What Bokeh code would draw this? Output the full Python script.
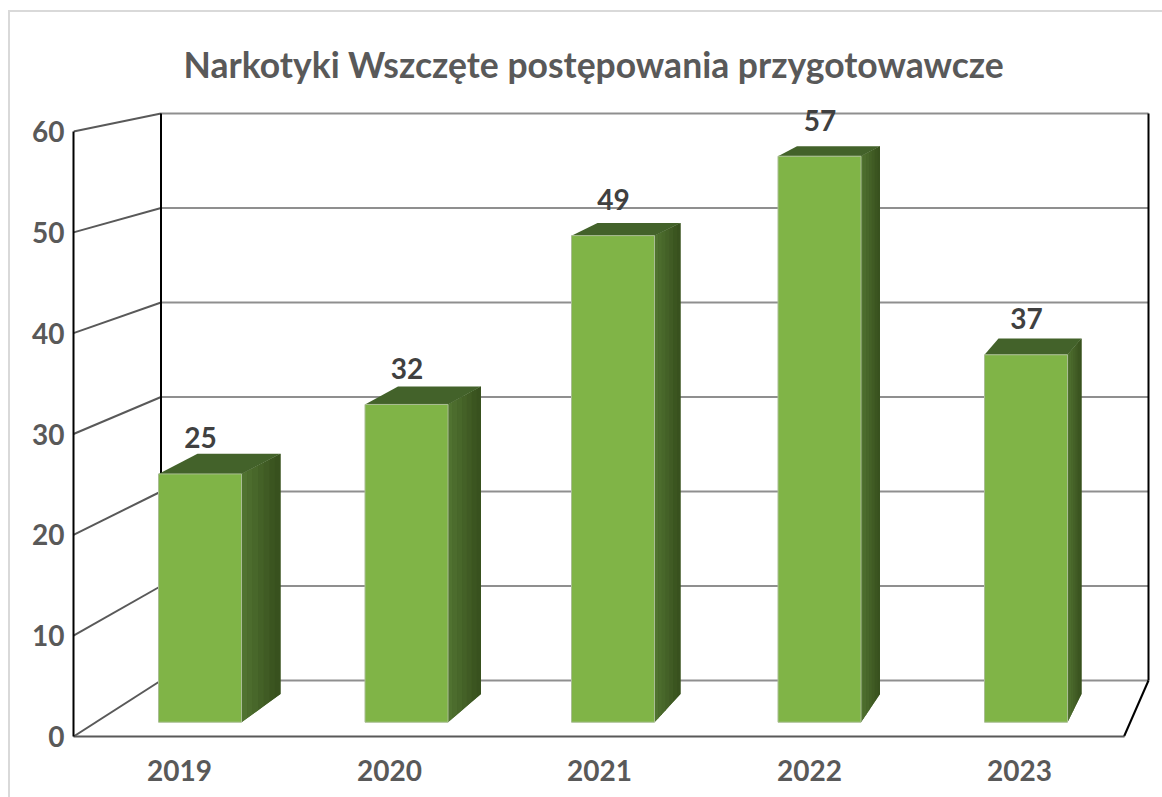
from bokeh.plotting import figure
from bokeh.embed import file_html
from bokeh.resources import INLINE
from bokeh.models import Range1d, LinearAxis, FixedTicker, InlineStyleSheet, Title
from bokeh.core.properties import value

# ---- chart values ----
title_text = "Narkotyki Wszczęte postępowania przygotowawcze"
years = ["2019", "2020", "2021", "2022", "2023"]
counts = [25, 32, 49, 57, 37]
y_ticks = [0, 10, 20, 30, 40, 50, 60]

# ---- layout (page pixels) ----
FRAME_L, FRAME_R, FRAME_T, FRAME_B = 73, 1162, 100, 736
PAGE_W, PAGE_H = 1162, 797
BAR_X0, BAR_STEP, BAR_W = 199.5, 206.5, 83      # bar plane: category -> px
BAR_Y0, BAR_K = 721.7, 9.93                     # bar plane: value -> px
FRONT_Y0, FRONT_K = 736, 10.083                 # front axis plane
WALL_L, WALL_R, WALL_Y0, WALL_K = 160.5, 1148, 680, 9.45   # back wall
FLOOR_R = 1123.5
LABEL_X0, LABEL_STEP = 179, 210                 # category-axis labels
DEPTH_DX = [39, 33, 26, 19, 14]                 # oblique depth per bar (perspective)
DEPTH_S, DEPTH_VY = 0.968, -158

GREEN = "#80b447"
SIDE_MID = "#446127"
SIDE_STEPS = ["#507230", "#4c6c2d", "#48672a", "#446127", "#405b24", "#3b5520", "#38511e"]
TOP_COLOR = "#43622a"
TXT = "#595959"
TXT_DARK = "#404040"
FONT = "Lato"

def xd(px):
    return (px - BAR_X0) / BAR_STEP

def yd(py):
    return (BAR_Y0 - py) / BAR_K

p = figure(
    frame_width=FRAME_R - FRAME_L, frame_height=FRAME_B - FRAME_T,
    min_border_left=FRAME_L, min_border_right=PAGE_W - FRAME_R,
    min_border_top=FRAME_T, min_border_bottom=PAGE_H - FRAME_B,
    x_range=Range1d(xd(FRAME_L), xd(FRAME_R)),
    y_range=Range1d(yd(FRAME_B), yd(FRAME_T)),
    output_backend="svg", toolbar_location=None, outline_line_color=None,
    background_fill_color="white", border_fill_color="white",
)
p.xaxis.visible = False
p.yaxis.visible = False
p.grid.visible = False

# secondary scales for the front-plane axes
p.extra_y_ranges["front"] = Range1d(0, (FRONT_Y0 - FRAME_T) / FRONT_K)
p.extra_x_ranges["front"] = Range1d((FRAME_L - LABEL_X0) / LABEL_STEP, (FRAME_R - LABEL_X0) / LABEL_STEP)

yax = LinearAxis(y_range_name="front", ticker=FixedTicker(ticks=y_ticks), bounds=(min(y_ticks), max(y_ticks)),
                 major_tick_line_color=None, minor_tick_line_color=None,
                 axis_line_color="black", axis_line_width=2,
                 major_label_text_font=FONT, major_label_text_font_style="bold",
                 major_label_text_font_size="28px", major_label_text_color=TXT,
                 major_label_standoff=3)
p.add_layout(yax, "left")

xax = LinearAxis(x_range_name="front", ticker=FixedTicker(ticks=list(range(len(years)))),
                 major_label_overrides={i: y for i, y in enumerate(years)},
                 bounds=((FRAME_L - LABEL_X0) / LABEL_STEP, (FLOOR_R - LABEL_X0) / LABEL_STEP),
                 major_tick_line_color=None, minor_tick_line_color=None,
                 axis_line_color=TXT, axis_line_width=2,
                 major_label_text_font=FONT, major_label_text_font_style="bold",
                 major_label_text_font_size="28px", major_label_text_color=TXT,
                 major_label_standoff=17)
xax.bounds = ((FRAME_L - LABEL_X0) / LABEL_STEP, (FLOOR_R - LABEL_X0) / LABEL_STEP)
p.add_layout(xax, "below")

# back wall gridlines and left-wall slants
wall_y = [yd(WALL_Y0 - WALL_K * t) for t in y_ticks]
front_y = [yd(FRONT_Y0 - FRONT_K * t) for t in y_ticks]
p.segment(x0=[xd(WALL_L)] * len(y_ticks), x1=[xd(WALL_R)] * len(y_ticks), y0=wall_y, y1=wall_y,
          line_color="#8f8f8f", line_width=2)
p.segment(x0=[xd(FRAME_L)] * len(y_ticks), x1=[xd(WALL_L)] * len(y_ticks), y0=front_y, y1=wall_y,
          line_color=TXT, line_width=2)
# wall verticals and right floor edge
p.segment(x0=[xd(WALL_L), xd(WALL_R), xd(FLOOR_R)], x1=[xd(WALL_L), xd(WALL_R), xd(WALL_R)],
          y0=[wall_y[0], wall_y[0], front_y[0]], y1=[wall_y[-1], wall_y[-1], wall_y[0]],
          line_color="black", line_width=2)

# 3-D sides and tops of the bars
half = BAR_W / 2 / BAR_STEP
def back_y(v):
    py = BAR_Y0 - BAR_K * v
    return yd(DEPTH_VY + (py - DEPTH_VY) * DEPTH_S)

base_xs, base_ys = [], []
side_xs, side_ys, side_cs = [], [], []
top_xs, top_ys = [], []
n = len(SIDE_STEPS)
for i, v in enumerate(counts):
    xr = i + half
    dx = DEPTH_DX[i] / BAR_STEP
    base_xs.append([xr, xr + dx, xr + dx, xr])
    base_ys.append([0, back_y(0), back_y(v), v])
    for k in range(n):
        f0, f1 = k / n, (k + 1) / n
        ylo0 = back_y(0) * f0
        ylo1 = back_y(0) * f1
        yhi0 = v + (back_y(v) - v) * f0
        yhi1 = v + (back_y(v) - v) * f1
        side_xs.append([xr + dx * f0, xr + dx * f1, xr + dx * f1, xr + dx * f0])
        side_ys.append([ylo0, ylo1, yhi1, yhi0])
        side_cs.append(SIDE_STEPS[k])
    top_xs.append([i - half, i + half, xr + dx, i - half + dx])
    top_ys.append([v, v, back_y(v), back_y(v)])

p.patches(xs=base_xs, ys=base_ys, fill_color=SIDE_MID, line_color=None)
p.patches(xs=side_xs, ys=side_ys, fill_color=side_cs, line_color=None)
p.patches(xs=top_xs, ys=top_ys, fill_color=TOP_COLOR, line_color=None)
p.vbar(x=list(range(len(counts))), top=counts, bottom=0, width=BAR_W / BAR_STEP,
       fill_color=GREEN, line_color="#a9bd93", line_width=1)

# data labels
p.text(x=list(range(len(counts))), y=counts, text=[str(c) for c in counts],
       text_font=value(FONT), text_font_style="bold", text_font_size="28px",
       text_color=TXT_DARK, text_align="center", text_baseline="middle", y_offset=-36, x_offset=0.5)

# title
p.add_layout(Title(text=title_text, align="left", offset=110, standoff=30,
                   text_font=FONT, text_font_style="bold", text_font_size="35.5px",
                   text_color=TXT), "above")

# chart-area border (top and left edges only are inside the picture)
p.stylesheets = [InlineStyleSheet(css=(
    ":host { position: relative; }"
    ":host::after { content: ''; position: absolute; left: 8px; top: 10px; right: 0; bottom: 0;"
    " border-left: 2px solid #d9d9d9; border-top: 2px solid #d9d9d9; z-index: 100; pointer-events: none; }"
))]

open("out.html", "w").write(file_html(p, INLINE))
